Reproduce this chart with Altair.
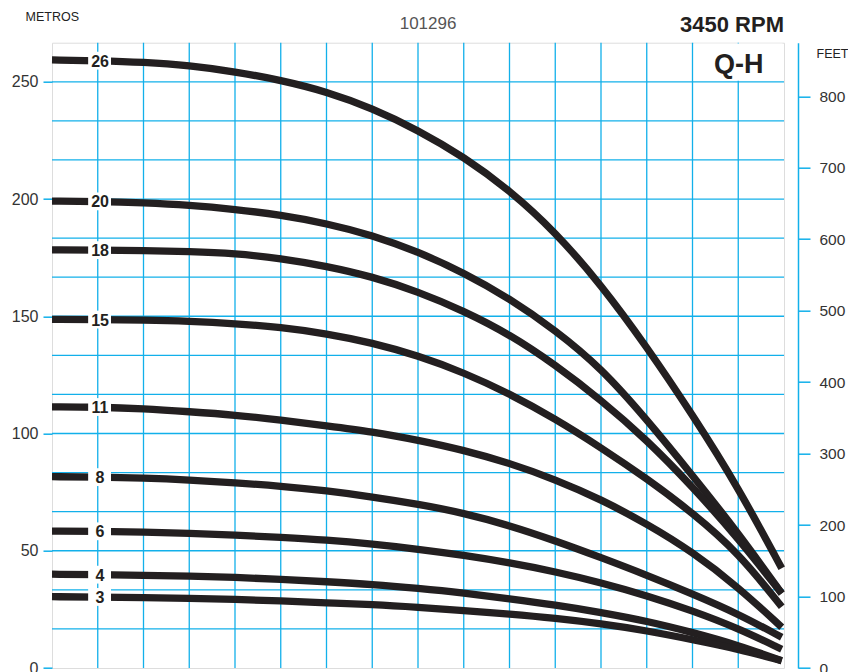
import altair as alt
import pandas as pd

# ---------------- data ----------------
# flow axis: 16 grid columns (no visible flow labels), last point near right edge
Q = [0, 1, 2, 3, 4, 5, 6, 7, 8, 9, 10, 11, 12, 13, 14, 15, 15.95]

H26 = [259.3, 259.0, 258.4, 257.0, 254.3, 250.7, 245.8, 238.7, 229.4, 218.0, 203.8, 186.0, 163.5, 137.0, 108.0, 77.0, 42.5]
H20 = [199.1, 199.0, 198.4, 197.4, 195.6, 193.2, 189.6, 184.6, 177.5, 168.6, 157.6, 144.1, 128.0, 106.0, 82.1, 57.6, 31.8]
H18 = [178.3, 178.2, 178.0, 177.6, 176.8, 174.7, 171.4, 166.9, 160.5, 152.3, 142.3, 129.3, 114.3, 97.3, 77.3, 55.3, 31.8]
H15 = [148.7, 148.6, 148.4, 147.9, 146.9, 145.3, 142.6, 138.7, 133.2, 126.0, 117.0, 106.3, 94.0, 80.8, 66.2, 49.2, 26.1]
H11 = [111.4, 111.3, 110.6, 109.3, 107.9, 105.8, 103.3, 100.8, 97.2, 92.9, 87.4, 80.4, 71.9, 61.5, 49.5, 34.5, 17.4]
H8 = [81.6, 81.4, 81.0, 80.2, 79.0, 77.6, 75.6, 73.0, 69.9, 66.1, 60.8, 54.3, 47.1, 39.6, 31.6, 23.1, 13.1]
H6 = [58.4, 58.3, 58.0, 57.4, 56.7, 55.7, 54.6, 52.9, 50.7, 48.1, 44.9, 41.1, 36.4, 30.9, 24.4, 16.9, 8.0]
H4 = [40.0, 39.8, 39.5, 39.2, 38.7, 37.8, 36.8, 35.7, 34.0, 32.0, 29.5, 26.9, 23.7, 20.0, 15.2, 9.7, 3.1]
H3 = [30.4, 30.3, 30.0, 29.7, 29.3, 28.6, 27.8, 27.1, 25.9, 24.5, 23.0, 21.2, 18.9, 15.9, 12.1, 8.1, 3.1]

STAGES = ["26", "20", "18", "15", "11", "8", "6", "4", "3"]
CURVES = [H26, H20, H18, H15, H11, H8, H6, H4, H3]

LABEL_Q = 1.05                     # where the stage numbers sit
BOX_Q = [0.79, 1.29]               # white gap behind the numbers
BOX_HALF = 3.8                     # half height of that gap (m)

GRID_Q = [1, 2, 3, 4, 5, 6, 7, 8, 9, 10, 11, 12, 13, 14, 15]
GRID_H = [16.667, 33.333, 50, 66.667, 83.333, 100, 116.667, 133.333, 150,
          166.667, 183.333, 200, 216.667, 233.333, 250]
METRE_TICKS = [0, 50, 100, 150, 200, 250]
FEET_TICKS = [0, 100, 200, 300, 400, 500, 600, 700, 800]
H_MAX = 266.667                    # metres at top of the grid
FT_MAX = 874.9                     # same height in feet

ANNOT_TEXT = ["3450 RPM", "101296"]
ANNOT_Q = [16.0, 8.22]
ANNOT_H = [271.1, 272.6]

QH_TEXT = ["Q-H"]
QH_Q = [15.01]
QH_H = [253.9]
QH_BOX = [14.03, 15.97, 250.4, 266.3]

# ---------------- styling ----------------
BLUE = "#12b0ea"
INK = "#231f20"
FONT = "Liberation Sans"

rows = []
for s, hs in zip(STAGES, CURVES):
    for q, h in zip(Q, hs):
        rows.append({"stage": s, "q": q, "h": h})
curves_df = pd.DataFrame(rows)

labels_df = pd.DataFrame({
    "stage": STAGES,
    "q": [LABEL_Q] * len(STAGES),
    "q0": [BOX_Q[0]] * len(STAGES),
    "q1": [BOX_Q[1]] * len(STAGES),
    "h": [c[1] for c in CURVES],
})
labels_df["h0"] = labels_df["h"] - BOX_HALF
labels_df["h1"] = labels_df["h"] + BOX_HALF

xs = alt.Scale(domain=[0, 16], nice=False, zero=False)


def ys():
    return alt.Scale(domain=[0, H_MAX], nice=False, zero=True)


grid_v = alt.Chart(pd.DataFrame({"q": GRID_Q})).mark_rule(
    color=BLUE, strokeWidth=1.3
).encode(x=alt.X("q:Q", scale=xs, axis=None))

grid_h = alt.Chart(pd.DataFrame({"h": GRID_H})).mark_rule(
    color=BLUE, strokeWidth=1.3
).encode(y=alt.Y("h:Q", scale=ys(), axis=None))

left_axis = alt.Axis(
    orient="left", values=METRE_TICKS, domain=False, grid=False,
    tickColor=BLUE, tickSize=9, tickWidth=1.5,
    labelFontSize=16, labelColor="#333333", labelPadding=5, labelFont=FONT,
    title="METROS", titleAngle=0, titleAlign="left", titleBaseline="alphabetic",
    titleX=-27, titleY=-22.7, titleFontSize=12.5, titleFontWeight="normal",
    titleColor="#222222", titleFont=FONT,
)

curves = alt.Chart(curves_df).mark_line(
    color=INK, strokeWidth=7.3, interpolate="basis", strokeCap="butt"
).encode(
    x=alt.X("q:Q", scale=xs, axis=None),
    y=alt.Y("h:Q", scale=ys(), axis=left_axis),
    detail="stage:N",
)

boxes = alt.Chart(labels_df).mark_rect(color="white").encode(
    x=alt.X("q0:Q", scale=xs, axis=None), x2="q1:Q",
    y=alt.Y("h0:Q", scale=ys(), axis=None), y2="h1:Q",
)

nums = alt.Chart(labels_df).mark_text(
    font=FONT, fontSize=16, fontWeight="bold", color=INK,
    align="center", baseline="middle", dy=1
).encode(
    x=alt.X("q:Q", scale=xs, axis=None),
    y=alt.Y("h:Q", scale=ys(), axis=None),
    text="stage:N",
)

qh_box = alt.Chart(pd.DataFrame({
    "q0": [QH_BOX[0]], "q1": [QH_BOX[1]], "h0": [QH_BOX[2]], "h1": [QH_BOX[3]]
})).mark_rect(color="white").encode(
    x=alt.X("q0:Q", scale=xs, axis=None), x2="q1:Q",
    y=alt.Y("h0:Q", scale=ys(), axis=None), y2="h1:Q",
)

qh_text = alt.Chart(pd.DataFrame({"t": QH_TEXT, "q": QH_Q, "h": QH_H})).mark_text(
    font=FONT, fontSize=27, fontWeight="bold", color=INK,
    align="center", baseline="alphabetic"
).encode(
    x=alt.X("q:Q", scale=xs, axis=None),
    y=alt.Y("h:Q", scale=ys(), axis=None),
    text="t:N",
)

annot_df = pd.DataFrame({"t": ANNOT_TEXT, "q": ANNOT_Q, "h": ANNOT_H})
rpm = alt.Chart(annot_df.iloc[[0]]).mark_text(
    font=FONT, fontSize=22, fontWeight="bold", color=INK,
    align="right", baseline="alphabetic"
).encode(
    x=alt.X("q:Q", scale=xs, axis=None),
    y=alt.Y("h:Q", scale=ys(), axis=None),
    text="t:N",
)
code = alt.Chart(annot_df.iloc[[1]]).mark_text(
    font=FONT, fontSize=17, color="#555555",
    align="center", baseline="alphabetic"
).encode(
    x=alt.X("q:Q", scale=xs, axis=None),
    y=alt.Y("h:Q", scale=ys(), axis=None),
    text="t:N",
)

feet = alt.Chart(pd.DataFrame({"ft": FEET_TICKS})).mark_point(opacity=0).encode(
    y=alt.Y("ft:Q", scale=alt.Scale(domain=[0, FT_MAX], nice=False),
            axis=alt.Axis(
                orient="right", values=FEET_TICKS, offset=14, grid=False,
                domainColor=BLUE, domainWidth=1.5,
                tickColor=BLUE, tickSize=12, tickWidth=1.5,
                labelFontSize=15.5, labelColor="#333333", labelPadding=9,
                labelFont=FONT,
                title="FEET", titleAngle=0, titleAlign="left",
                titleBaseline="alphabetic", titleX=18, titleY=15,
                titleFontSize=12.5, titleFontWeight="normal",
                titleColor="#222222", titleFont=FONT,
            ))
)

chart = alt.layer(
    grid_v, grid_h, curves, boxes, nums, qh_box, qh_text, rpm, code, feet
).resolve_scale(y="independent").properties(
    width=732, height=625.3,
    padding={"left": 44, "top": 34.7, "right": 64, "bottom": 4},
    autosize=alt.AutoSizeParams(type="none"),
).configure_view(
    stroke=BLUE, strokeWidth=2.5
).configure(font=FONT)

chart.save("out.html", embed_options={"renderer": "svg", "actions": False})
